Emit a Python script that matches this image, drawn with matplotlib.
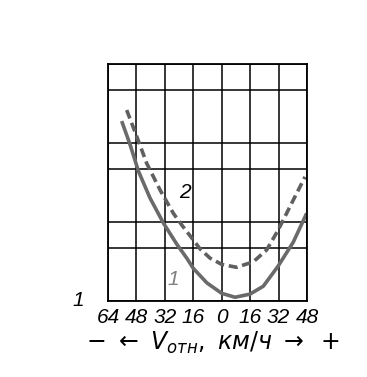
import matplotlib.pyplot as plt

# x: relative speed, km/h (negative = left side of the axis)
x1 = [-56.3, -51.6, -46.9, -40.4, -32.8, -25.3, -19.7, -16.0, -8.4, 0.0, 7.5, 15.9, 23.4, 31.8, 40.3, 47.8]
y1 = [6.83, 5.94, 4.93, 3.91, 2.95, 2.15, 1.62, 1.23, 0.68, 0.28, 0.13, 0.25, 0.55, 1.32, 2.23, 3.32]

x2 = [-53.5, -47.8, -42.2, -34.7, -27.2, -22.5, -16.0, -12.2, -6.6, 0.0, 8.4, 17.8, 25.3, 31.8, 40.3, 46.9]
y2 = [7.25, 6.24, 5.22, 4.21, 3.32, 2.88, 2.31, 1.97, 1.62, 1.38, 1.27, 1.48, 1.93, 2.69, 3.83, 4.71]

xticks = [-64, -48, -32, -16, 0, 16, 32, 48]
xlabels = ['64', '48', '32', '16', '0', '16', '32', '48']
ygrid = [0, 2, 3, 5, 6, 8, 9]

plt.rcParams['font.family'] = ['Liberation Sans', 'DejaVu Sans']

fig = plt.figure(figsize=(3.67, 3.77), dpi=100)
ax = fig.add_axes([0.2943, 0.2024, 0.5422, 0.6278])

ax.plot(x1, y1, color='#6a6a6a', lw=2.6, solid_capstyle='butt', solid_joinstyle='round')
ax.plot(x2, y2, color='#606060', lw=2.6, dashes=(2.5, 1.3))

ax.set_xlim(-64, 48)
ax.set_ylim(0, 9)
ax.set_xticks(xticks)
ax.set_xticklabels(xlabels, fontsize=15, style='italic')
ax.set_yticks(ygrid)
ax.set_yticklabels([])
ax.tick_params(length=0, pad=5)
ax.grid(True, color='black', lw=1.1)
for s in ax.spines.values():
    s.set_linewidth(1.3)

ax.text(-20.7, 4.1, '2', fontsize=15, style='italic', ha='center', va='center')
ax.text(-27.4, 0.8, '1', fontsize=15, style='italic', color='#808080', ha='center', va='center')
fig.text(78 / 367, 1 - 300 / 377, '1', fontsize=15, style='italic', ha='center', va='center')

fig.text(0.58, 1 - 343 / 377,
         r'$-\ \leftarrow\ \mathit{V}_{\mathit{отн}}\mathit{,\ км/ч}\ \rightarrow\ +$',
         fontsize=17, ha='center', va='center')

fig.savefig('out.png', dpi=100)
